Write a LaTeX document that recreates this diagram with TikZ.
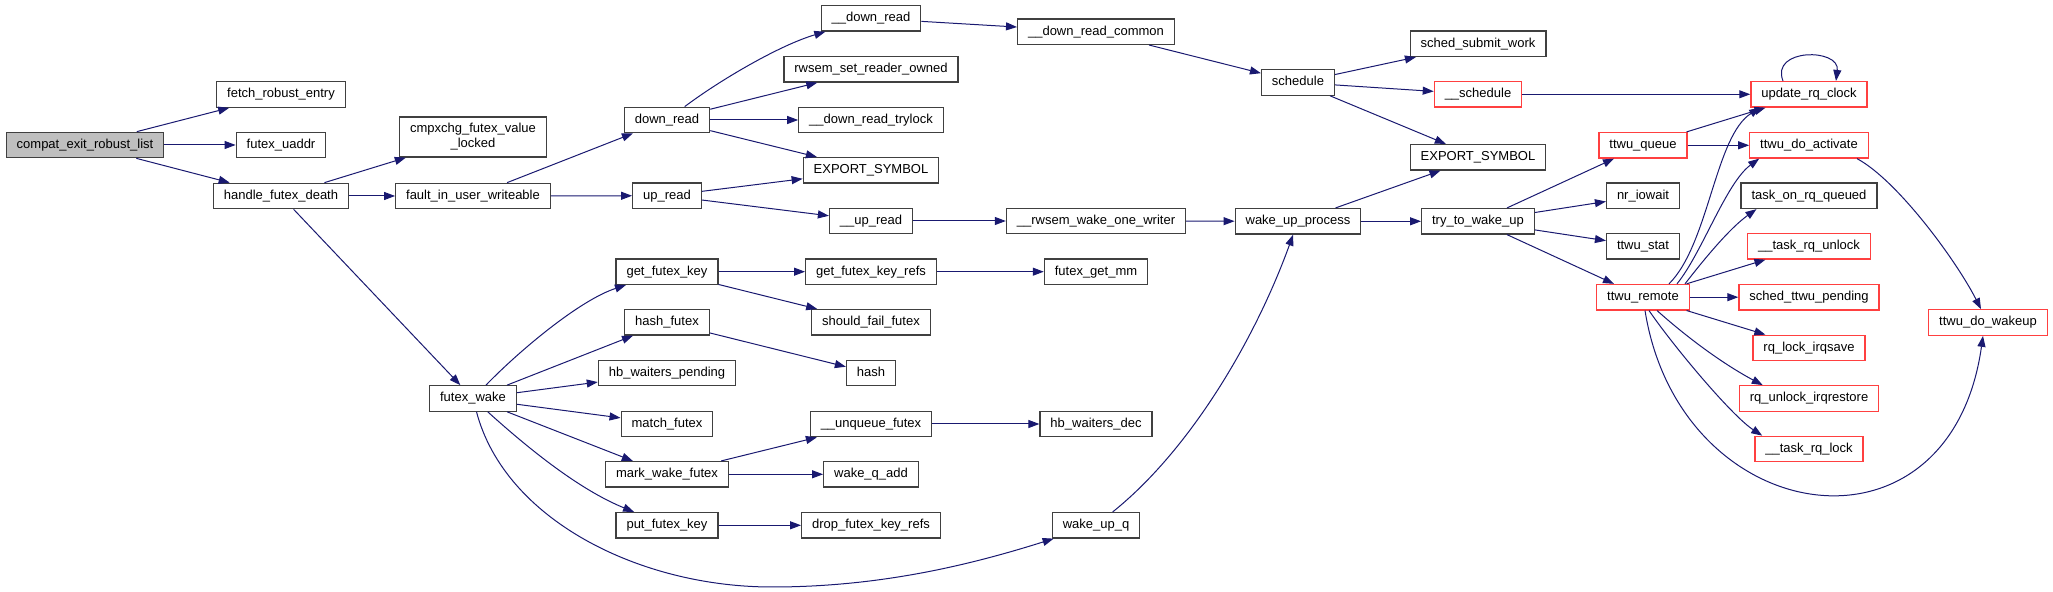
\documentclass[tikz,border=0pt]{standalone}
\usepackage{fontspec}
\setmainfont{Liberation Sans}
\usetikzlibrary{arrows.meta}

\definecolor{callblue}{RGB}{25,25,112}
\definecolor{truncred}{RGB}{255,64,64}

\tikzset{
  fnbox/.style={draw=black!75, line width=0.65pt, fill=white,
    font=\fontsize{6.5}{7.5}\selectfont, inner xsep=5.2pt, inner ysep=0pt,
    minimum height=12.7pt, text height=4.9pt, text depth=1.4pt},
  rootbox/.style={fnbox, fill=black!25},
  truncbox/.style={fnbox, draw=truncred},
  callarr/.style={draw=callblue, line width=0.5pt, -{Triangle[length=5.5pt,width=4pt]}}
}

\begin{document}
\begin{tikzpicture}[x=0.5pt, y=-0.5pt]
    \useasboundingbox (0,0) rectangle (2053,592);

    \def \xA {85};
    \def \xB {281};
    \def \xC {473};
    \def \xD {667};
    \def \xE {871};
    \def \xF {1096};
    \def \xG {1298};
    \def \xH {1478};
    \def \xI {1643};
    \def \xJ {1809};
    \def \xK {1988};

    % futex side
    \node[rootbox] (compat) at (\xA, 145) {compat\_exit\_robust\_list};
    \node[fnbox] (fetch) at (\xB, 94.5) {fetch\_robust\_entry};
    \node[fnbox] (uaddr) at (\xB, 145) {futex\_uaddr};
    \node[fnbox] (hfd) at (\xB, 196) {handle\_futex\_death};
    \node[fnbox, text height={}, text depth={}, minimum height=20pt, align=center] (cmpx) at (\xC, 137) {cmpxchg\_futex\_value\\\_locked};
    \node[fnbox] (fiuw) at (\xC, 196) {fault\_in\_user\_writeable};
    \node[fnbox] (fwake) at (\xC, 398.5) {futex\_wake};

    \node[fnbox] (dnread) at (\xD, 120) {down\_read};
    \node[fnbox] (upread) at (\xD, 195.7) {up\_read};
    \node[fnbox] (gfk) at (\xD, 271.7) {get\_futex\_key};
    \node[fnbox] (hashf) at (\xD, 322.3) {hash\_futex};
    \node[fnbox] (hbwp) at (\xD, 373) {hb\_waiters\_pending};
    \node[fnbox] (matchf) at (\xD, 424) {match\_futex};
    \node[fnbox] (mwf) at (\xD, 474.3) {mark\_wake\_futex};
    \node[fnbox] (pfk) at (\xD, 525.3) {put\_futex\_key};

    \node[fnbox] (udnread) at (\xE, 18.4) {\_\_down\_read};
    \node[fnbox] (rsro) at (\xE, 69.3) {rwsem\_set\_reader\_owned};
    \node[fnbox] (drtry) at (\xE, 120) {\_\_down\_read\_trylock};
    \node[fnbox] (exportA) at (\xE, 170.3) {EXPORT\_SYMBOL};
    \node[fnbox] (uupread) at (\xE, 221) {\_\_up\_read};
    \node[fnbox] (gfkr) at (\xE, 271.7) {get\_futex\_key\_refs};
    \node[fnbox] (sff) at (\xE, 322.3) {should\_fail\_futex};
    \node[fnbox] (hash) at (\xE, 373) {hash};
    \node[fnbox] (unq) at (\xE, 424) {\_\_unqueue\_futex};
    \node[fnbox] (wqadd) at (\xE, 474.3) {wake\_q\_add};
    \node[fnbox] (dfkr) at (\xE, 525.3) {drop\_futex\_key\_refs};

    \node[fnbox] (drcommon) at (\xF, 31.7) {\_\_down\_read\_common};
    \node[fnbox] (rwow) at (\xF, 221) {\_\_rwsem\_wake\_one\_writer};
    \node[fnbox] (fgm) at (\xF, 271.7) {futex\_get\_mm};
    \node[fnbox] (hbwd) at (\xF, 424) {hb\_waiters\_dec};
    \node[fnbox] (wuq) at (\xF, 525.3) {wake\_up\_q};

    % scheduler side
    \node[fnbox] (schedule) at (\xG, 82.5) {schedule};
    \node[fnbox] (wup) at (\xG, 221.3) {wake\_up\_process};

    \node[fnbox] (ssw) at (\xH, 43.8) {sched\_submit\_work};
    \node[truncbox] (uschedule) at (\xH, 94.3) {\_\_schedule};
    \node[fnbox] (exportB) at (\xH, 157.3) {EXPORT\_SYMBOL};
    \node[fnbox] (ttwu) at (\xH, 221.3) {try\_to\_wake\_up};

    \node[truncbox] (tqueue) at (\xI, 145.3) {ttwu\_queue};
    \node[fnbox] (nriow) at (\xI, 195.8) {nr\_iowait};
    \node[fnbox] (tstat) at (\xI, 246.3) {ttwu\_stat};
    \node[truncbox] (tremote) at (\xI, 297.2) {ttwu\_remote};

    \node[truncbox] (urc) at (\xJ, 94.3) {update\_rq\_clock};
    \node[truncbox] (tda) at (\xJ, 145.3) {ttwu\_do\_activate};
    \node[fnbox] (torq) at (\xJ, 195.8) {task\_on\_rq\_queued};
    \node[truncbox] (trqu) at (\xJ, 246.3) {\_\_task\_rq\_unlock};
    \node[truncbox] (stp) at (\xJ, 297.2) {sched\_ttwu\_pending};
    \node[truncbox] (rqlis) at (\xJ, 348) {rq\_lock\_irqsave};
    \node[truncbox] (rquir) at (\xJ, 398.5) {rq\_unlock\_irqrestore};
    \node[truncbox] (trql) at (\xJ, 449) {\_\_task\_rq\_lock};

    \node[truncbox] (tdw) at (\xK, 322.5) {ttwu\_do\_wakeup};

    % straight calls
    \foreach \a/\b in {compat/fetch, compat/uaddr, compat/hfd, hfd/cmpx, hfd/fiuw, hfd/fwake,
        fiuw/dnread, fiuw/upread, dnread/rsro, dnread/drtry, dnread/exportA, upread/exportA,
        upread/uupread, udnread/drcommon, drcommon/schedule, uupread/rwow, rwow/wup,
        schedule/ssw, schedule/uschedule, schedule/exportB, uschedule/urc, wup/exportB, wup/ttwu,
        ttwu/tqueue, ttwu/nriow, ttwu/tstat, ttwu/tremote, tqueue/urc, tqueue/tda,
        tremote/trqu, tremote/stp, tremote/rqlis,
        fwake/hashf, fwake/hbwp, fwake/matchf, fwake/mwf, gfk/gfkr, gfk/sff, gfkr/fgm,
        hashf/hash, mwf/unq, mwf/wqadd, unq/hbwd, pfk/dfkr}
        \draw[callarr] (\a) -- (\b);

    % curved calls
    \draw[callarr] (dnread) .. controls (720,80) and (780,45) .. (udnread);
    \draw[callarr] (fwake) .. controls (520,350) and (580,300) .. (gfk);
    \draw[callarr] (fwake) .. controls (530,450) and (580,490) .. (pfk);
    \coordinate (wbot) at (772,587);
    \draw[callarr] (fwake) .. controls (505,520) and (640,587) .. (wbot)
        .. controls (880,587) and (970,565) .. (wuq);
    \draw[callarr] (wuq) .. controls (1190,450) and (1255,340) .. (wup);

    \draw[callarr] ([xshift=13pt]tremote.north) .. controls (1709,244) and (1715,136) .. ([xshift=5pt]urc.south west);
    \draw[callarr] ([xshift=17pt]tremote.north) .. controls (1702,253) and (1726,183) .. ([xshift=5pt]tda.south west);
    \draw[callarr] ([xshift=21pt]tremote.north) .. controls (1705,258) and (1730,228) .. ([xshift=8pt]torq.south west);
    \draw[callarr] ([xshift=7pt]tremote.south) .. controls (1690,340) and (1725,365) .. ([xshift=12pt]rquir.north west);
    \draw[callarr] ([xshift=3pt]tremote.south) .. controls (1674,347) and (1732,416) .. ([xshift=4pt]trql.north west);
    \draw[callarr] ([xshift=1pt]tremote.south) .. controls (1680,530) and (1950,570) .. ([xshift=-2.5pt]tdw.south);
    \draw[callarr] ([xshift=24pt]tda.south) .. controls (1897,180) and (1956,260) .. ([xshift=-3.5pt]tdw.north);

    \draw[callarr] ([xshift=-13pt]urc.north) .. controls (1770,48) and (1840,48) .. ([xshift=13.5pt]urc.north);

\end{tikzpicture}
\end{document}
